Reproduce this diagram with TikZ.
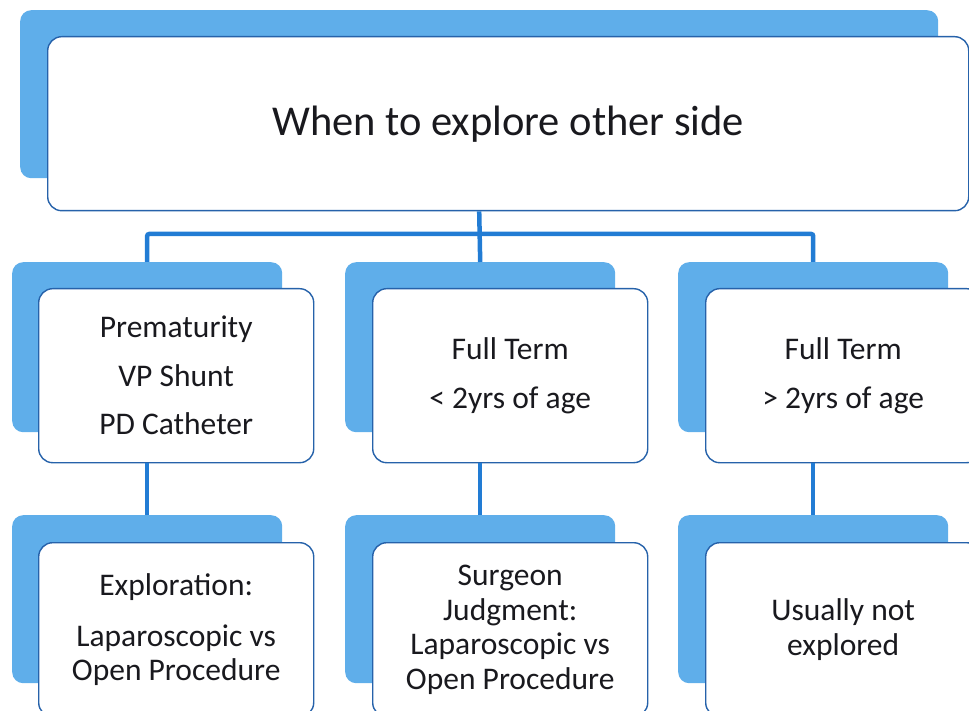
\documentclass[tikz,border=0pt]{standalone}
\usepackage{fontspec}
\setmainfont{Carlito}
\definecolor{backblue}{RGB}{95,174,234}
\definecolor{connblue}{RGB}{34,124,212}
\definecolor{edgeblue}{RGB}{38,98,170}
\definecolor{ink}{RGB}{25,25,30}
\begin{document}
\begin{tikzpicture}[x=1pt,y=-1pt,
  back/.style={fill=backblue, draw=none, rounded corners=11pt, anchor=north west, inner sep=0pt},
  card/.style={fill=white, draw=edgeblue, line width=1.4pt, rounded corners=14pt, anchor=north west, inner sep=0pt, align=center, text=ink},
  conn/.style={draw=connblue, line width=4.5pt, rounded corners=2pt},
  big/.style={font=\fontsize{42.5}{50}\selectfont},
  mid/.style={font=\fontsize{31.5}{48.5}\selectfont},
  low/.style={font=\fontsize{31.5}{34.5}\selectfont}]
\useasboundingbox (0,0) rectangle (969,711);
\clip (0,0) rectangle (969,711);
% top
\node[back, minimum width=918pt, minimum height=168pt] (topback) at (20,10) {};
\node[card, big, minimum width=921pt, minimum height=174pt] (top) at (47,36) {When to explore other side};
% middle row
\node[back, minimum width=270pt, minimum height=170pt] (lback) at (12,262) {};
\node[back, minimum width=270pt, minimum height=170pt] (mback) at (345,262) {};
\node[back, minimum width=270pt, minimum height=170pt] (rback) at (678,262) {};
% bottom row backs
\node[back, minimum width=270pt, minimum height=168pt] (lbback) at (12,515) {};
\node[back, minimum width=270pt, minimum height=168pt] (mbback) at (345,515) {};
\node[back, minimum width=270pt, minimum height=168pt] (rbback) at (678,515) {};
% connectors
\coordinate (bus) at (479,234);
\draw[conn] (lback.north) |- (bus) -| (rback.north);
\draw[conn] (top.south -| topback.south) -- (mback.north);
% middle cards
\node[card, mid, minimum width=275pt, minimum height=174pt] (l) at (38,288) {Prematurity\\VP Shunt\\PD Catheter};
\node[card, mid, minimum width=275pt, minimum height=174pt] (m) at (372,288) {Full Term\\< 2yrs of age};
\node[card, mid, minimum width=275pt, minimum height=174pt] (r) at (705,288) {Full Term\\> 2yrs of age};
\draw[conn] (l.south -| lback.south) -- (lbback.north);
\draw[conn] (m.south -| mback.south) -- (mbback.north);
\draw[conn] (r.south -| rback.south) -- (rbback.north);
% bottom cards
\node[card, low, minimum width=275pt, minimum height=174pt] (lb) at (38,542) {Exploration:\\[16pt]Laparoscopic vs\\Open Procedure};
\node[card, low, minimum width=275pt, minimum height=174pt] (mb) at (372,542) {Surgeon\\Judgment:\\Laparoscopic vs\\Open Procedure};
\node[card, low, minimum width=275pt, minimum height=174pt] (rb) at (705,542) {Usually not\\explored};
\end{tikzpicture}
\end{document}
